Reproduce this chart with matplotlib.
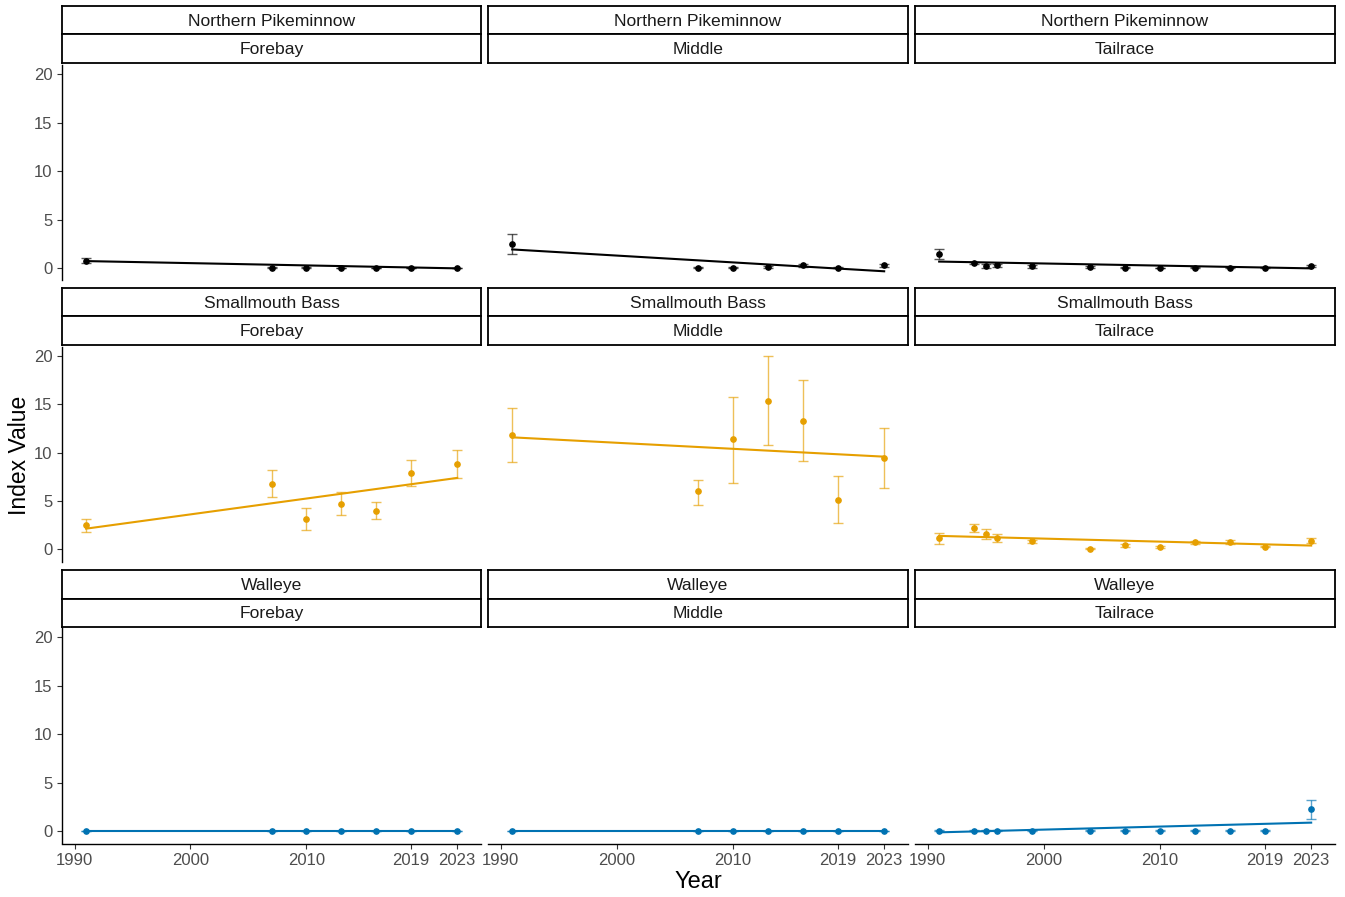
import numpy as np
import matplotlib
matplotlib.use("Agg")
import matplotlib.pyplot as plt
from matplotlib.colors import to_rgba

plt.rcParams['font.family'] = ['Liberation Sans', 'DejaVu Sans']

# data
species = ["Northern Pikeminnow", "Smallmouth Bass", "Walleye"]
locations = ["Forebay", "Middle", "Tailrace"]
colors = ["#000000", "#E69F00", "#0072B2"]

years_fm = [1991, 2007, 2010, 2013, 2016, 2019, 2023]
years_tr = [1991, 1994, 1995, 1996, 1999, 2004, 2007, 2010, 2013, 2016, 2019, 2023]

# Northern Pikeminnow
npm_fore = [0.8, 0.05, 0.03, 0.02, 0.03, 0.03, 0.03]
npm_fore_lo = [0.55, 0.0, 0.0, 0.0, 0.0, 0.0, 0.0]
npm_fore_hi = [1.05, 0.1, 0.1, 0.08, 0.08, 0.06, 0.06]
npm_mid = [2.5, 0.05, 0.05, 0.1, 0.3, 0.05, 0.3]
npm_mid_lo = [1.5, 0.0, 0.0, 0.0, 0.15, 0.0, 0.15]
npm_mid_hi = [3.5, 0.1, 0.1, 0.2, 0.45, 0.1, 0.45]
npm_tail = [1.5, 0.55, 0.2, 0.3, 0.2, 0.1, 0.05, 0.02, 0.05, 0.05, 0.05, 0.2]
npm_tail_lo = [1.0, 0.45, 0.0, 0.15, 0.05, 0.0, 0.0, 0.0, 0.0, 0.0, 0.0, 0.1]
npm_tail_hi = [2.0, 0.65, 0.4, 0.45, 0.35, 0.2, 0.1, 0.05, 0.1, 0.1, 0.1, 0.3]

# Smallmouth Bass
smb_fore = [2.5, 6.8, 3.1, 4.7, 4.0, 7.9, 8.8]
smb_fore_lo = [1.8, 5.45, 2.0, 3.6, 3.1, 6.6, 7.4]
smb_fore_hi = [3.1, 8.2, 4.3, 5.9, 4.9, 9.3, 10.3]
smb_mid = [11.8, 6.0, 11.4, 15.4, 13.3, 5.15, 9.5]
smb_mid_lo = [9.0, 4.6, 6.9, 10.85, 9.1, 2.7, 6.4]
smb_mid_hi = [14.6, 7.2, 15.75, 20.0, 17.5, 7.6, 12.6]
smb_tail = [1.2, 2.2, 1.6, 1.2, 0.85, 0.03, 0.45, 0.25, 0.75, 0.8, 0.3, 0.9]
smb_tail_lo = [0.6, 1.8, 1.1, 0.75, 0.7, 0.0, 0.3, 0.15, 0.6, 0.6, 0.2, 0.65]
smb_tail_hi = [1.7, 2.6, 2.1, 1.6, 1.0, 0.1, 0.6, 0.35, 0.9, 1.0, 0.4, 1.2]

# Walleye
wal_fore = [0.0, 0.0, 0.0, 0.0, 0.0, 0.0, 0.0]
wal_fore_lo = [0.0, 0.0, 0.0, 0.0, 0.0, 0.0, 0.0]
wal_fore_hi = [0.02, 0.02, 0.02, 0.02, 0.02, 0.02, 0.02]
wal_mid = [0.0, 0.0, 0.0, 0.0, 0.0, 0.0, 0.0]
wal_mid_lo = [0.0, 0.0, 0.0, 0.0, 0.0, 0.0, 0.0]
wal_mid_hi = [0.02, 0.02, 0.02, 0.02, 0.02, 0.02, 0.02]
wal_tail = [0.05, 0.05, 0.05, 0.05, 0.05, 0.05, 0.05, 0.05, 0.05, 0.05, 0.05, 2.35]
wal_tail_lo = [0.0, 0.0, 0.0, 0.0, 0.0, 0.0, 0.0, 0.0, 0.0, 0.0, 0.0, 1.3]
wal_tail_hi = [0.1, 0.1, 0.1, 0.1, 0.1, 0.1, 0.1, 0.1, 0.1, 0.1, 0.1, 3.25]

# fitted trend (value at 1991 and at 2023), per species x location
trend_start = [[0.75, 1.95, 0.7], [2.15, 11.6, 1.4], [0.0, 0.0, -0.1]]
trend_end = [[0.0, -0.3, 0.0], [7.4, 9.6, 0.4], [0.0, 0.0, 0.9]]

series = [
    [(years_fm, npm_fore, npm_fore_lo, npm_fore_hi),
     (years_fm, npm_mid, npm_mid_lo, npm_mid_hi),
     (years_tr, npm_tail, npm_tail_lo, npm_tail_hi)],
    [(years_fm, smb_fore, smb_fore_lo, smb_fore_hi),
     (years_fm, smb_mid, smb_mid_lo, smb_mid_hi),
     (years_tr, smb_tail, smb_tail_lo, smb_tail_hi)],
    [(years_fm, wal_fore, wal_fore_lo, wal_fore_hi),
     (years_fm, wal_mid, wal_mid_lo, wal_mid_hi),
     (years_tr, wal_tail, wal_tail_lo, wal_tail_hi)],
]

xticks = [1990, 2000, 2010, 2019, 2023]
yticks = [0, 5, 10, 15, 20]

W, H = 1345, 897
fig = plt.figure(figsize=(W / 100, H / 100), dpi=100)

col_x = [(62, 481), (488, 908), (915, 1335)]
row_y = [(65, 280.5), (347, 561.5), (628, 843.5)]
strip_tops = [6, 288, 570]
strip_h = 28.5


def px_rect(x0, y0, x1, y1):
    return [x0 / W, 1 - y1 / H, (x1 - x0) / W, (y1 - y0) / H]


def strip(x0, x1, y0, text):
    sa = fig.add_axes(px_rect(x0, y0, x1, y0 + strip_h))
    sa.set_xticks([])
    sa.set_yticks([])
    for s in sa.spines.values():
        s.set_linewidth(1.3)
        s.set_color("black")
    sa.text(0.5, 0.47, text, ha="center", va="center", fontsize=12.6, color="#1A1A1A",
            transform=sa.transAxes)


for i, sp in enumerate(species):
    for j, loc in enumerate(locations):
        x0, x1 = col_x[j]
        y0, y1 = row_y[i]
        ax = fig.add_axes(px_rect(x0, y0, x1, y1))
        yrs, val, lo, hi = series[i][j]
        yrs = np.array(yrs)
        val = np.array(val)
        err = [val - np.array(lo), np.array(hi) - val]
        c = colors[i]
        ax.plot([1991, 2023], [trend_start[i][j], trend_end[i][j]], color=c, lw=1.5, zorder=2)
        ax.errorbar(yrs, val, yerr=err, fmt="none", ecolor=to_rgba(c, 0.65),
                    elinewidth=1.0, capsize=3.8, capthick=1.0, zorder=3)
        ax.plot(yrs, val, "o", color=c, ms=3.8, zorder=4)
        ax.set_xlim(1988.92, 2025.05)
        ax.set_ylim(-1.25, 20.95)
        for s in ["top", "right"]:
            ax.spines[s].set_visible(False)
        ax.spines["left"].set_visible(j == 0)
        ax.spines["bottom"].set_visible(i == 2)
        ax.spines["left"].set_linewidth(1.0)
        ax.spines["bottom"].set_linewidth(1.0)
        ax.set_yticks(yticks)
        ax.set_xticks(xticks)
        ax.tick_params(colors="#333333", labelcolor="#4D4D4D", labelsize=12,
                       length=3.5, width=0.8)
        if j != 0:
            ax.tick_params(axis="y", left=False, labelleft=False)
        if i != 2:
            ax.tick_params(axis="x", bottom=False, labelbottom=False)
        ax.patch.set_alpha(0)
        strip(x0, x1, strip_tops[i], sp)
        strip(x0, x1, strip_tops[i] + strip_h, loc)

fig.text(20 / W, 1 - 455 / H, "Index Value", rotation=90, ha="center", va="center",
         fontsize=16.5, color="black")
fig.text(698 / W, 1 - 882 / H, "Year", ha="center", va="center", fontsize=17, color="black")

fig.savefig("out.png", dpi=100)
